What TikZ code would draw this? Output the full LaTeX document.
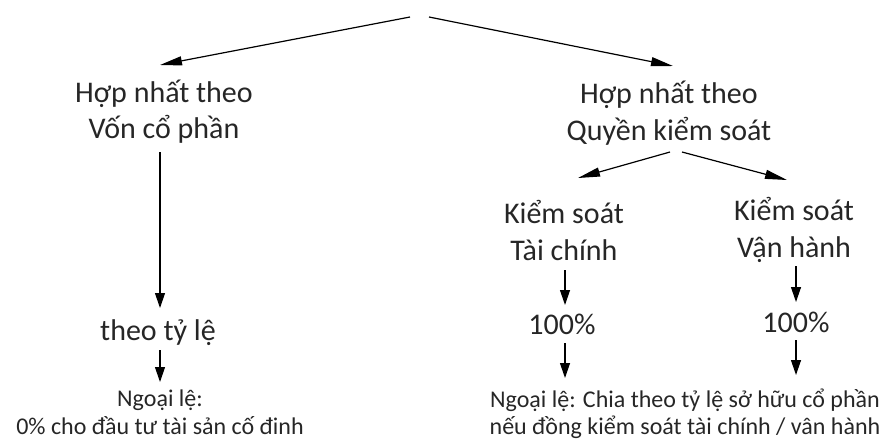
\documentclass[tikz,border=0pt]{standalone}
\usepackage{fontspec}
\setmainfont{Carlito}
\usetikzlibrary{arrows.meta}
\begin{document}
\begin{tikzpicture}[x=1pt,y=-1pt,
  big/.style={font=\fontsize{30}{36}\selectfont, inner sep=0pt, anchor=base, text=black!85},
  small/.style={font=\fontsize{24}{29}\selectfont, inner sep=0pt, anchor=base, text=black!85},
  darr/.style={line width=1.2pt, -{Triangle[length=22pt,width=9pt]}},
  varr/.style={line width=1.2pt, -{Triangle[length=15pt,width=10pt]}}]
\useasboundingbox (0,0) rectangle (893,439);
\coordinate (tl) at (410,17);
\coordinate (tr) at (429,17);
\node[big] (A1) at (164,102) {Hợp nhất theo};
\node[big] (A2) at (164,138) {Vốn cổ phần};
\node[big] (B1) at (669,103) {Hợp nhất theo};
\node[big] (B2) at (669,140) {Quyền kiểm soát};
\node[big] (A3) at (158,340) {theo tỷ lệ};
\node[small] (A4) at (160,406) {Ngoại lệ:};
\node[small] (A5) at (160,434) {0\% cho đầu tư tài sản cố đinh};
\node[big] (C1) at (564,223) {Kiểm soát};
\node[big] (C2) at (564,260) {Tài chính};
\node[big] (D1) at (794,220) {Kiểm soát};
\node[big] (D2) at (794,257) {Vận hành};
\node[big] (C3) at (562,334) {100\%};
\node[big] (D3) at (796,332) {100\%};
\node[small] (E1) at (685,407) {Ngoại lệ: Chia theo tỷ lệ sở hữu cổ phần};
\node[small] (E2) at (685,434) {nếu đồng kiểm soát tài chính / vân hành};
% top arrows
\draw[darr] (tl) -- ([xshift=-4pt,yshift=37pt]A1.base);
\draw[darr] (tr) -- ([xshift=4pt,yshift=37pt]B1.base);
% left column
\draw[varr] ([xshift=-4pt,yshift=-14pt]A2.base) -- ([xshift=2pt,yshift=32pt]A3.base);
\draw[varr] ([xshift=2pt,yshift=-10pt]A3.base) -- ([yshift=24pt]A4.base);
% right split
\draw[darr] ([xshift=1pt,yshift=-12pt]B2.base) -- ([xshift=14pt,yshift=45pt]C1.base);
\draw[darr] ([xshift=13pt,yshift=-12pt]B2.base) -- ([xshift=-7pt,yshift=40pt]D1.base);
\draw[varr] ([xshift=1pt,yshift=-10pt]C2.base) -- ([xshift=3pt,yshift=29pt]C3.base);
\draw[varr] ([xshift=2pt,yshift=-9pt]D2.base) -- ([yshift=30pt]D3.base);
\draw[varr] ([xshift=3pt,yshift=-9pt]C3.base) -- ([xshift=-120pt,yshift=29pt]E1.base);
\draw[varr] ([yshift=-8pt]D3.base) -- ([xshift=111pt,yshift=32pt]E1.base);
\end{tikzpicture}
\end{document}
